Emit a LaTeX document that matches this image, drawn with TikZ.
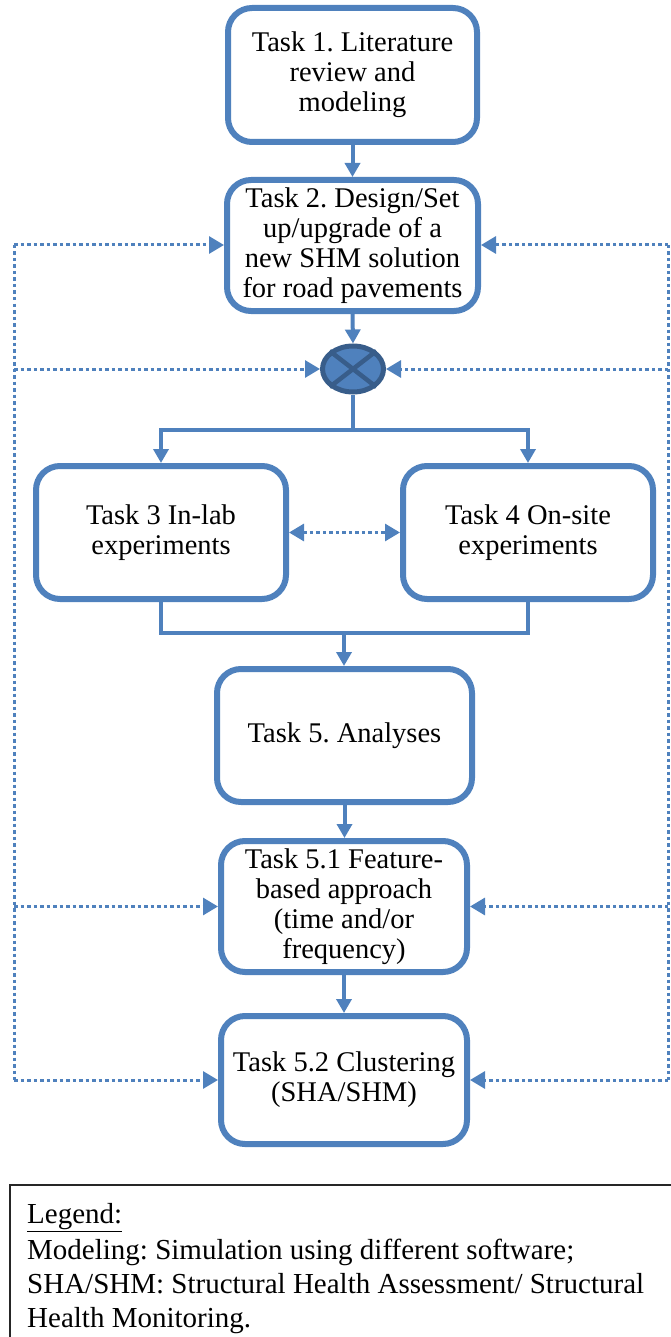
\documentclass[tikz,border=0pt]{standalone}
\usepackage{fontspec}
\setmainfont{Liberation Serif}
\usetikzlibrary{arrows.meta,shapes.geometric}
\definecolor{oblue}{HTML}{4F81BD}
\definecolor{odark}{HTML}{385D8A}
\tikzset{
  taskbox/.style={draw=oblue, line width=6pt, rounded corners=24pt, fill=white,
    align=center, inner sep=2pt, font=\fontsize{28.5}{30}\selectfont},
  conn/.style={draw=oblue, line width=4pt},
  tip/.style={-{Triangle[length=14pt,width=15pt]}},
  dline/.style={draw=oblue, line width=3pt, dash pattern=on 3.5pt off 3pt},
  dtip/.style={-{Triangle[length=15pt,width=17pt]}},
}
\begin{document}
\frenchspacing
\begin{tikzpicture}[x=1pt,y=-1pt]
\useasboundingbox (0,0) rectangle (671,1337);
% boxes
\node[taskbox, minimum width=249pt, minimum height=134pt] (t1) at (352.5,75) {Task 1. Literature\\review and\\modeling};
\node[taskbox, minimum width=251pt, minimum height=131pt] (t2) at (352.5,245.5) {Task 2. Design/Set\\up/upgrade of a\\new SHM solution\\for road pavements};
\node[ellipse, draw=odark, fill=oblue, line width=5pt, minimum width=61pt, minimum height=46pt, inner sep=0pt] (e) at (353,369) {};
\draw[odark, line width=4.5pt] (e.north west) -- (e.south east) (e.north east) -- (e.south west);
\node[taskbox, minimum width=250pt, minimum height=133pt] (t3) at (161,532.5) {Task 3 In-lab\\experiments};
\node[taskbox, minimum width=250pt, minimum height=133pt] (t4) at (528,532.5) {Task 4 On-site\\experiments};
\node[taskbox, minimum width=255pt, minimum height=133pt] (t5) at (344.5,735.5) {Task 5. Analyses};
\node[taskbox, minimum width=246pt, minimum height=131pt] (t51) at (344,906.5) {Task 5.1 Feature-\\based approach\\(time and/or\\frequency)};
\node[taskbox, minimum width=246pt, minimum height=128pt] (t52) at (344,1080) {Task 5.2 Clustering\\(SHA/SHM)};
% junction coordinates
\coordinate (j1) at (353,430);
\coordinate (m) at (344,633);
\coordinate (lt) at (14,245);
\coordinate (lb) at (14,1080);
\coordinate (rt) at (668,245);
\coordinate (rb) at (668,1080);
% solid connectors
\draw[conn,tip] (t1.south) -- (t2.north);
\draw[conn,tip] (t2.south) -- (e.north);
\draw[conn] (e.south) -- (j1);
\draw[conn,tip] (j1) -| (t3.north);
\draw[conn,tip] (j1) -| (t4.north);
\draw[conn] (t3.south) |- (m) -| (t4.south);
\draw[conn,tip] (m) -- (m |- t5.north);
\draw[conn,tip] (t5.south) -- (t5.south |- t51.north);
\draw[conn,tip] (t51.south) -- (t51.south |- t52.north);
% dotted feedback
\draw[dline] (lt) -- (lb);
\draw[dline] (rt) -- (rb);
\draw[dline,dtip] (lt) -- (lt -| t2.west);
\draw[dline,dtip] (rt) -- (rt -| t2.east);
\draw[dline,dtip] (lt |- e.west) -- (e.west);
\draw[dline,dtip] (rt |- e.east) -- (e.east);
\draw[dline,dtip] (lb |- t51.west) -- (t51.west);
\draw[dline,dtip] (rb |- t51.east) -- (t51.east);
\draw[dline,dtip] (lb) -- (lb -| t52.west);
\draw[dline,dtip] (rb) -- (rb -| t52.east);
\draw[dline,{Triangle[length=15pt,width=17pt]}-{Triangle[length=15pt,width=17pt]}] (t3.east) -- (t4.west);
% legend
\draw[black!85, line width=1.6pt] (10,1185) rectangle (700,1360);
\node[anchor=north west, align=left, inner sep=0pt, font=\fontsize{29}{34}\selectfont] (leg) at (27,1203)
  {\underline{Legend:}\\[2pt]Modeling: Simulation using different software;\\SHA/SHM: Structural Health Assessment/ Structural\\Health Monitoring.};
\end{tikzpicture}
\end{document}
